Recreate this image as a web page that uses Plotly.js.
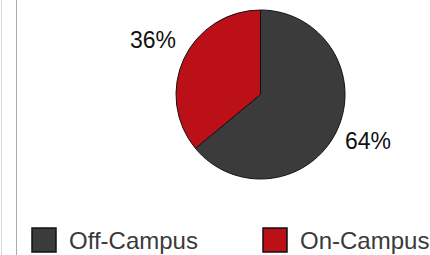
<!DOCTYPE html>
<html><head><meta charset="utf-8">
<script src="https://cdn.plot.ly/plotly-3.0.1.min.js"></script>
<style>
html,body{margin:0;padding:0;background:#fff;overflow:hidden}
#chart{width:430px;height:255px;position:absolute;left:0;top:0}
.vline{position:absolute;top:0;width:1px;height:255px}
</style></head><body>
<div id="chart"></div>
<div class="vline" style="left:1px;background:#d8d8d8"></div>
<div class="vline" style="left:16px;background:#aaaaaa"></div>
<script>
const categories = ['Off-Campus', 'On-Campus'];
const values = [64, 36];
const colors = ['#3b3b3b', '#bc1019'];

const W = 430, H = 255;
const FONT = 'Liberation Sans, Arial, sans-serif';
// pie box in pixels
const pieL = 176, pieR = 345, pieT = 10, pieB = 179;
const cx = (pieL + pieR) / 2, cy = (pieT + pieB) / 2, r = (pieR - pieL) / 2;

const trace = {
  type: 'pie',
  labels: categories,
  values: values,
  sort: false,
  direction: 'clockwise',
  rotation: 0,
  textinfo: 'none',
  marker: {colors: colors, line: {color: '#111', width: 1}},
  hoverinfo: 'none',
  showlegend: false,
  domain: {x: [pieL / W, pieR / W], y: [(H - pieB) / H, (H - pieT) / H]}
};

const shapes = [], annotations = [];

// percentage labels placed outside each slice, along its mid angle
const total = values.reduce(function (a, b) { return a + b; }, 0);
let cum = 0;
values.forEach(function (v, i) {
  const mid = (cum + v / 2) / total;
  cum += v;
  const th = 2 * Math.PI * mid;
  const k = 1.4;
  const px = cx + k * r * Math.sin(th);
  const py = cy - k * r * Math.cos(th) - 4;
  annotations.push({
    xref: 'paper', yref: 'paper', x: px / W, y: (H - py) / H,
    xanchor: 'center', yanchor: 'middle', showarrow: false,
    text: Math.round(100 * v / total) + '%',
    font: {family: FONT, size: 23, color: '#111'}
  });
});

// custom legend (boxes + labels)
const legendLeft = [32, 263];
const boxSize = 24, legendCy = 240;
categories.forEach(function (c, i) {
  const x0 = legendLeft[i];
  shapes.push({
    type: 'rect', xref: 'paper', yref: 'paper',
    x0: x0 / W, x1: (x0 + boxSize) / W,
    y0: (H - legendCy - boxSize / 2) / H, y1: (H - legendCy + boxSize / 2) / H,
    fillcolor: colors[i], line: {color: '#111', width: 1.5}
  });
  annotations.push({
    xref: 'paper', yref: 'paper', x: (x0 + boxSize + 11) / W, y: (H - legendCy) / H,
    xanchor: 'left', yanchor: 'middle', showarrow: false, text: c,
    font: {family: FONT, size: 24, color: '#3a3a3a'}
  });
});

const layout = {
  width: W, height: H,
  margin: {l: 0, r: 0, t: 0, b: 0},
  paper_bgcolor: '#fff',
  showlegend: false,
  font: {family: FONT},
  shapes: shapes,
  annotations: annotations
};
Plotly.newPlot('chart', [trace], layout, {staticPlot: true, displayModeBar: false});
</script>
</body></html>
